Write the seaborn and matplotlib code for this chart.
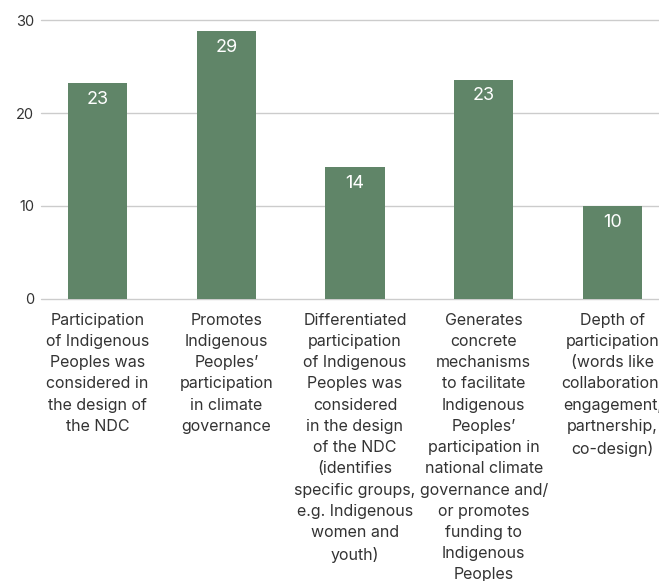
import pandas as pd
import matplotlib.pyplot as plt
import seaborn as sns

# Chart data
categories = [
    "Participation\nof Indigenous\nPeoples was\nconsidered in\nthe design of\nthe NDC",
    "Promotes\nIndigenous\nPeoples’\nparticipation\nin climate\ngovernance",
    "Differentiated\nparticipation\nof Indigenous\nPeoples was\nconsidered\nin the design\nof the NDC\n(identifies\nspecific groups,\ne.g. Indigenous\nwomen and\nyouth)",
    "Generates\nconcrete\nmechanisms\nto facilitate\nIndigenous\nPeoples’\nparticipation in\nnational climate\ngovernance and/\nor promotes\nfunding to\nIndigenous\nPeoples",
    "Depth of\nparticipation\n(words like\ncollaboration,\nengagement,\npartnership,\nco-design)",
]
values = [23.2, 28.8, 14.2, 23.6, 10.0]
value_labels = ["23", "29", "14", "23", "10"]
y_ticks = [0, 10, 20, 30]

df = pd.DataFrame({'category': categories, 'value': values})

sns.set_style('white')
plt.rcParams['font.family'] = ['Inter', 'DejaVu Sans']

fig = plt.figure(figsize=(6.59, 5.81), dpi=100)
ax = fig.add_axes([41 / 659, (581 - 298.7) / 581, 628 / 659, (298.7 - 20.3) / 581])

sns.barplot(data=df, x='category', y='value', color='#608568', width=0.46,
            saturation=1, linewidth=0, ax=ax, zorder=3)

ax.set_ylim(0, 30)
ax.set_xlim(-0.44, 4.44)
ax.set_yticks(y_ticks)
ax.grid(axis='y', color='#cccccc', linewidth=1, zorder=0)
ax.grid(axis='x', visible=False)
for gl in ax.get_ygridlines():
    gl.set_clip_on(False)
sns.despine(ax=ax, left=True, bottom=True, top=True, right=True)
ax.set_xlabel('')
ax.set_ylabel('')
ax.tick_params(axis='y', length=0, pad=5, labelsize=10.5, labelcolor='#333333')
ax.tick_params(axis='x', length=0, pad=10, labelsize=11.5, labelcolor='#333333')
for lbl in ax.get_xticklabels():
    lbl.set_linespacing(1.52)
    lbl.set_va('top')

# Value labels inside bars
for i, (v, txt) in enumerate(zip(values, value_labels)):
    ax.annotate(txt, (i, v), xytext=(0, -5.5), textcoords='offset points',
                ha='center', va='top', color='white', fontsize=13, zorder=4)

plt.savefig('out.png', dpi=100)
